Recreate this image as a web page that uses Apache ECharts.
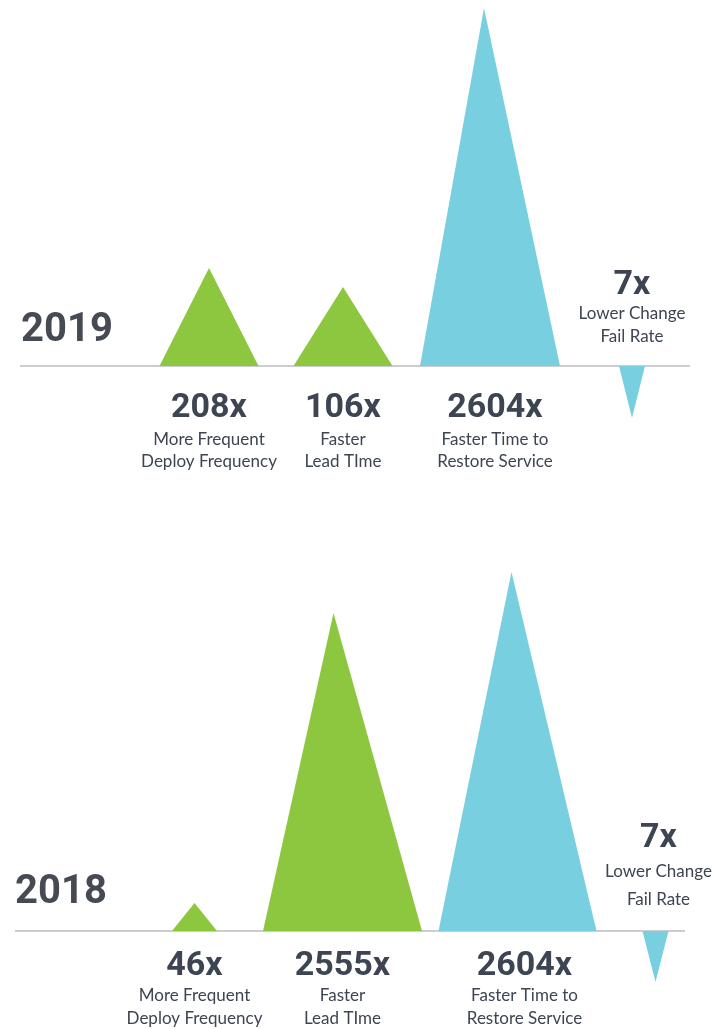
<!DOCTYPE html>
<html>
<head>
<meta charset="utf-8">
<script src="https://cdn.jsdelivr.net/npm/echarts@6/dist/echarts.min.js"></script>
<style>html,body{margin:0;padding:0;background:#fff}#c{width:728px;height:1029px}</style>
</head>
<body>
<div id="c"></div>
<script>
// ---- data ----
const years = ['2019', '2018'];
const categories = ['Deploy Frequency', 'Lead Time', 'Time to Restore Service', 'Change Fail Rate'];
const heights2019 = [98, 79, 358, -52];
const heights2018 = [28, 318, 359, -51];
const labels2019 = ['208x', '106x', '2604x', '7x'];
const labels2018 = ['46x', '2555x', '2604x', '7x'];
const desc2019 = ['More Frequent\nDeploy Frequency', 'Faster\nLead TIme', 'Faster Time to\nRestore Service', 'Lower Change\nFail Rate'];
const desc2018 = ['More Frequent\nDeploy Frequency', 'Faster\nLead TIme', 'Faster Time to\nRestore Service', 'Lower Change\nFail Rate'];

// ---- styles ----
const GREEN = '#8dc63f', BLUE = '#78cfe0', TEXT = '#3d4452', LINE = '#b9bec5';
const colors = [GREEN, GREEN, BLUE, BLUE];
const panels = [
  { heights: heights2019, labels: labels2019, desc: desc2019, year: years[0],
    grid: { left: 137.5, width: 564, top: 6, height: 420 },
    widths: [99, 99, 140, 26], apexShift: [0, 0, -6, 0], nudge: [1, -6, 0, 1], labelNudge: [0, 0, 5, 0],
    lineX: [20, 690],
    valueOff: 42, descOff: 74, descLH: 22, negValueOff: -81, negDescOff: -52, negDescLH: 23,
    yearPos: [67, 331] },
  { heights: heights2018, labels: labels2018, desc: desc2018, year: years[1],
    grid: { left: 116, width: 612, top: 571, height: 420 },
    widths: [45, 159, 158, 26], apexShift: [0, -9, -6, 0], nudge: [2, -3, 19, 4], labelNudge: [0, 0, 7, 3],
    lineX: [15, 685],
    valueOff: 35, descOff: 65, descLH: 23, negValueOff: -93, negDescOff: -59, negDescLH: 28,
    yearPos: [61, 893] }
];

const chart = echarts.init(document.getElementById('c'), null, { renderer: 'canvas' });

function makeRender(st) {
  return function (params, api) {
    const i = params.dataIndex;
    const cat = api.value(0), h = api.value(1);
    const base = api.coord([cat, 0]);
    const tip = api.coord([cat, h]);
    const cx = base[0] + st.nudge[i];
    const w = st.widths[i];
    const children = [];
    if (i === 0) {
      children.push({ type: 'line', shape: { x1: st.lineX[0], y1: base[1], x2: st.lineX[1], y2: base[1] },
        style: { stroke: LINE, lineWidth: 1.5 } });
    }
    children.push({ type: 'polygon',
      shape: { points: [[cx - w / 2, base[1]], [cx + w / 2, base[1]], [cx + st.apexShift[i], tip[1]]] },
      style: { fill: colors[i] } });
    const neg = h < 0;
    const vOff = neg ? st.negValueOff : st.valueOff;
    const dOff = neg ? st.negDescOff : st.descOff;
    const lh = neg ? st.negDescLH : st.descLH;
    const lx = cx + st.labelNudge[i];
    children.push({ type: 'text', style: { text: st.labels[i], x: lx, y: base[1] + vOff,
      align: 'center', verticalAlign: 'middle', fill: TEXT, font: 'bold 34px Roboto' } });
    children.push({ type: 'text', style: { text: st.desc[i], x: lx, y: base[1] + dOff - lh / 2,
      align: 'center', verticalAlign: 'top', fill: TEXT, font: '17px Lato', lineHeight: lh } });
    return { type: 'group', children: children };
  };
}

const option = {
  animation: false,
  grid: panels.map(p => Object.assign({ containLabel: false }, p.grid)),
  xAxis: panels.map((p, k) => ({ type: 'category', gridIndex: k, data: categories, show: false })),
  yAxis: panels.map((p, k) => ({ type: 'value', gridIndex: k, min: -60, max: 360, show: false })),
  graphic: panels.map(p => ({ type: 'text', x: p.yearPos[0], y: p.yearPos[1],
    style: { text: p.year, align: 'center', verticalAlign: 'middle', fill: '#454a53',
      font: 'bold 40px Roboto' } })),
  series: panels.map((p, k) => ({
    type: 'custom', xAxisIndex: k, yAxisIndex: k, clip: false, silent: true,
    encode: { x: 0, y: 1 },
    data: p.heights.map((h, i) => [i, h]),
    renderItem: makeRender(p)
  }))
};
chart.setOption(option);
</script>
</body>
</html>
